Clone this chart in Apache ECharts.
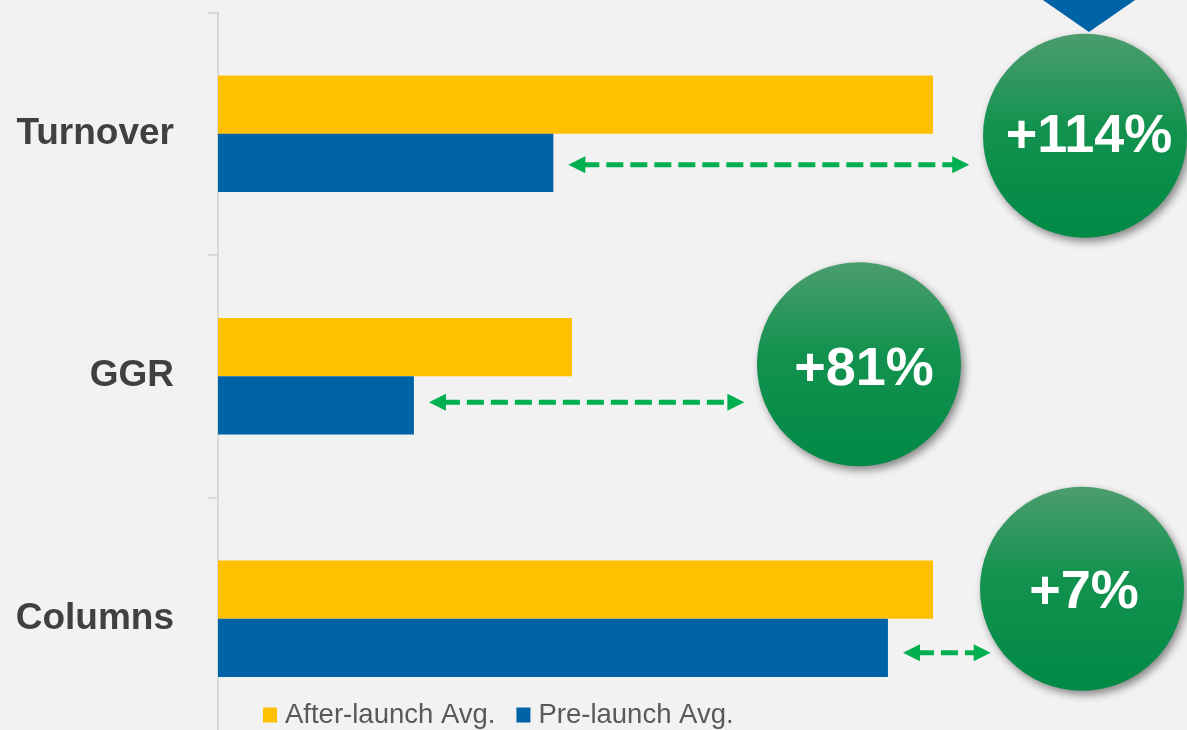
<!DOCTYPE html>
<html>
<head>
<meta charset="utf-8">
<script src="https://cdn.jsdelivr.net/npm/echarts@6/dist/echarts.min.js"></script>
<style>
html,body{margin:0;padding:0;background:#F2F2F2;}
#chart{width:1187px;height:730px;}
</style>
</head>
<body>
<div id="chart"></div>
<script>
// ---- data ----
var categories = ['Turnover', 'GGR', 'Columns'];
var seriesNames = ['After-launch Avg.', 'Pre-launch Avg.'];
var afterLaunch = [100, 49.5, 100];
var preLaunch = [46.9, 27.4, 93.7];
var changeLabels = ['+114%', '+81%', '+7%'];

// ---- layout constants for annotation badges (pixels) ----
var badgeCx = [1085, 859, 1082];
var badgeDy = [2, -12, -30];
var arrowDy = [2, -3, 5];
var arrowEndGap = [18, 20, 12];
var textDy = [1, 6, 4];
var textDx = [4, 5, 2];
var badgeR = 102;

var FONT = "'Liberation Sans', Arial, sans-serif";

var chart = echarts.init(document.getElementById('chart'));

var annoData = categories.map(function (c, i) { return [i, preLaunch[i], afterLaunch[i]]; });

var option = {
  backgroundColor: '#F2F2F2',
  animation: false,
  textStyle: { fontFamily: FONT },
  grid: { left: 218, right: 254, top: 12.5, height: 727.5, containLabel: false, outerBoundsMode: 'none' },
  legend: {
    data: seriesNames,
    left: 263,
    top: 701,
    padding: 0,
    icon: 'rect',
    itemWidth: 14,
    itemHeight: 15,
    itemGap: 21,
    selectedMode: false,
    textStyle: { fontSize: 27.5, color: '#595959', fontFamily: FONT, padding: [0, 0, 0, 3] }
  },
  xAxis: {
    type: 'value', min: 0, max: 100, show: false
  },
  yAxis: {
    type: 'category',
    data: categories,
    inverse: true,
    axisLine: { show: true, lineStyle: { color: '#D9D9D9', width: 2 } },
    axisTick: { show: true, length: 10, lineStyle: { color: '#D9D9D9', width: 2 } },
    axisLabel: { margin: 44, fontSize: 37, fontWeight: 'bold', color: '#404040', fontFamily: FONT },
    splitLine: { show: false }
  },
  series: [
    {
      name: seriesNames[0], type: 'bar', data: afterLaunch,
      itemStyle: { color: '#FFC000' },
      barGap: '0%', barCategoryGap: '52%'
    },
    {
      name: seriesNames[1], type: 'bar', data: preLaunch,
      itemStyle: { color: '#0063A6' },
      barGap: '0%', barCategoryGap: '52%'
    },
    {
      type: 'custom',
      data: annoData,
      clip: false,
      silent: true,
      z: 5,
      encode: { x: 1, y: 0 },
      renderItem: function (params, api) {
        var i = api.value(0);
        var pre = api.value(1);
        var endPt = api.coord([pre, i]);
        var band = api.size([0, 1])[1];
        var catY = endPt[1];
        var blueY = catY + band * 0.12;
        var ay = blueY + arrowDy[i];
        var cx = badgeCx[i];
        var cy = catY + badgeDy[i];
        var dyc = ay - cy;
        var edge = cx - Math.sqrt(Math.max(0, badgeR * badgeR - dyc * dyc));
        var x0 = endPt[0] + 15;
        var x1 = edge - arrowEndGap[i];
        var head = 17, hh = 8.5;
        var green = '#00B050';
        return {
          type: 'group',
          children: [
            {
              type: 'line',
              shape: { x1: x0 + head - 1, y1: ay, x2: x1 - head + 1, y2: ay },
              style: { stroke: green, lineWidth: 5, lineDash: [17, 7], lineDashOffset: 2 }
            },
            {
              type: 'polygon',
              shape: { points: [[x0, ay], [x0 + head, ay - hh], [x0 + head, ay + hh]] },
              style: { fill: green }
            },
            {
              type: 'polygon',
              shape: { points: [[x1, ay], [x1 - head, ay - hh], [x1 - head, ay + hh]] },
              style: { fill: green }
            },
            {
              type: 'circle',
              shape: { cx: cx, cy: cy, r: badgeR },
              style: {
                fill: new echarts.graphic.LinearGradient(0, 0, 0, 1, [
                  { offset: 0, color: '#4C9D6E' },
                  { offset: 0.45, color: '#13924F' },
                  { offset: 1, color: '#008A45' }
                ]),
                shadowBlur: 9,
                shadowColor: 'rgba(0,0,0,0.45)',
                shadowOffsetX: 3,
                shadowOffsetY: 4
              }
            },
            {
              type: 'text',
              x: cx + textDx[i], y: cy + textDy[i],
              style: {
                text: changeLabels[i],
                fill: '#FFFFFF',
                font: 'bold 54px ' + FONT,
                align: 'center',
                verticalAlign: 'middle'
              }
            }
          ]
        };
      }
    }
  ],
  graphic: [
    {
      type: 'polygon',
      shape: { points: [[1040, -2], [1138, -2], [1089, 32]] },
      style: { fill: '#0063A6' }
    }
  ]
};

chart.setOption(option);
</script>
</body>
</html>
